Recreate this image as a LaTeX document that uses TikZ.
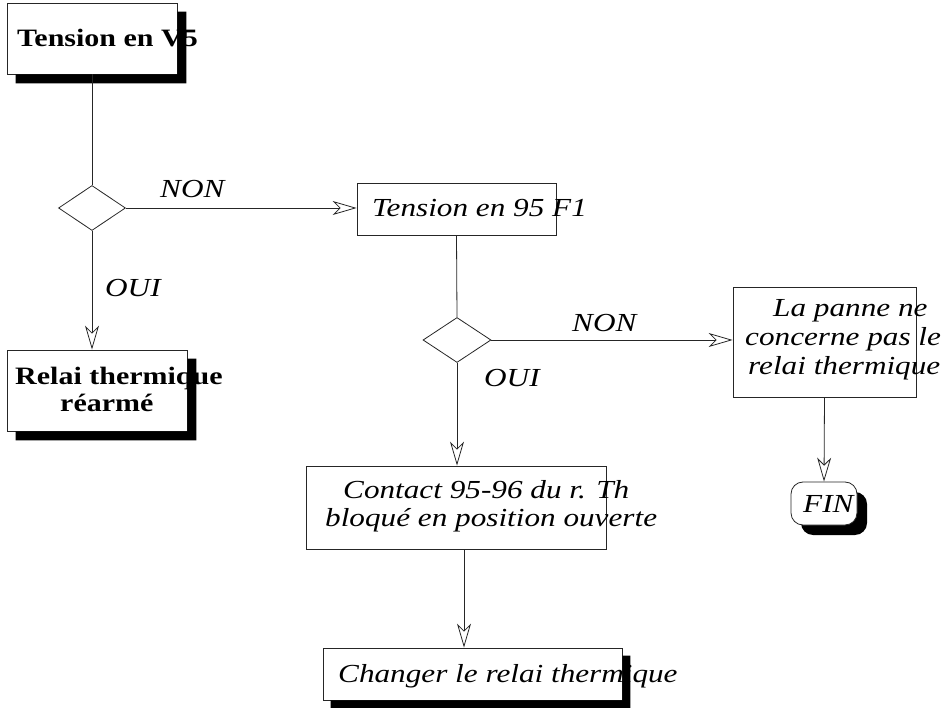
\documentclass[tikz,border=0pt]{standalone}
\usepackage{fontspec}
\setmainfont{Liberation Serif}[FakeStretch=1.2]
\usetikzlibrary{arrows.meta,shapes.geometric,calc,shadows}
\newcommand\lshadow[2]{\fill[black] ($(#1.north east)+(0,#2)$) -- ($(#1.north east)+(#2,#2)$) -- ($(#1.south east)+(#2,#2)$) -- ($(#1.south west)+(#2,#2)$) -- ($(#1.south west)+(#2,0)$) -- (#1.south east) -- cycle;}
\begin{document}
\begin{tikzpicture}[x=1pt,y=-1pt,
  box/.style={draw=black!85,line width=0.8pt,fill=white,inner sep=0pt,rectangle},
  dec/.style={draw=black!85,line width=0.8pt,fill=white,diamond,inner sep=0pt,minimum width=67pt,minimum height=45pt},
  bt/.style={anchor=base west,inner sep=0pt,align=left,font=\fontsize{25}{27}\selectfont\bfseries},
  it/.style={anchor=base west,inner sep=0pt,align=left,font=\fontsize{26}{29}\selectfont\itshape},
  ln/.style={draw=black!85,line width=0.8pt},
  arr/.style={ln,-{Stealth[open,length=24pt,width=14pt,inset=7pt]}}]
\useasboundingbox (0,0) rectangle (943,708);
% boxes
\node[box,minimum width=170pt,minimum height=71pt] (b1) at (92,38.5) {};
\node[dec] (d1) at (92,208) {};
\node[box,minimum width=180pt,minimum height=81pt] (b2) at (97,390.5) {};
\node[box,minimum width=199pt,minimum height=52pt] (b3) at (456.5,209) {};
\node[dec,minimum width=68pt] (d2) at (457,340) {};
\node[box,minimum width=183pt,minimum height=110pt] (b4) at (824.5,342) {};
\node[box,rounded corners=12pt,minimum width=66pt,minimum height=43pt,
  drop shadow={shadow xshift=10pt,shadow yshift=-10pt,opacity=1,fill=black}] (fin) at (824,503.5) {};
\node[box,minimum width=300pt,minimum height=83pt] (b5) at (456,507.5) {};
\node[box,minimum width=299pt,minimum height=52pt] (b6) at (472.5,674) {};
% texts
\node[bt] (t1) at (17,47) {Tension en V5};
\node[bt] (t2) at (15,412) {Relai thermique\\\hspace*{45pt}réarmé};
\node[it] (t3) at (372,217) {Tension en 95 F1};
\node[it] (t4) at (745,375) {\hspace*{28pt}La panne ne\\concerne pas le\\\hspace*{3pt}relai thermique};
\node[it] (t5) at (803,513) {FIN};
\node[it,font=\fontsize{26}{28}\selectfont\itshape] (t6) at (325,526) {\hspace*{18pt}Contact 95-96 du r. Th\\bloqué en position ouverte};
\node[it] (t7) at (338,682) {Changer le relai thermique};
\node[it] (l1) at (160,198) {NON};
\node[it] (l2) at (105,297) {OUI};
\node[it] (l3) at (572,332) {NON};
\node[it] (l4) at (484,387) {OUI};
% shadows
\lshadow{b1}{9}
\lshadow{b2}{9}
\lshadow{b6}{8}
% connectors
\coordinate (m) at (464,600);
\draw[ln] (b1.south) -- (d1.north);
\draw[arr] (d1.east) -- (d1.east -| b3.west);
\draw[arr] (d1.south) -- (d1.south |- b2.north);
\draw[ln] (b3.south) -- (d2.north);
\draw[arr] (d2.east) -- (d2.east -| b4.west);
\draw[arr] (d2.south) -- (d2.south |- b5.north);
\draw[arr] (b4.south) -- (fin.north);
\draw[arr] (b5.south -| m) -- (b6.north -| m);
\end{tikzpicture}
\end{document}
